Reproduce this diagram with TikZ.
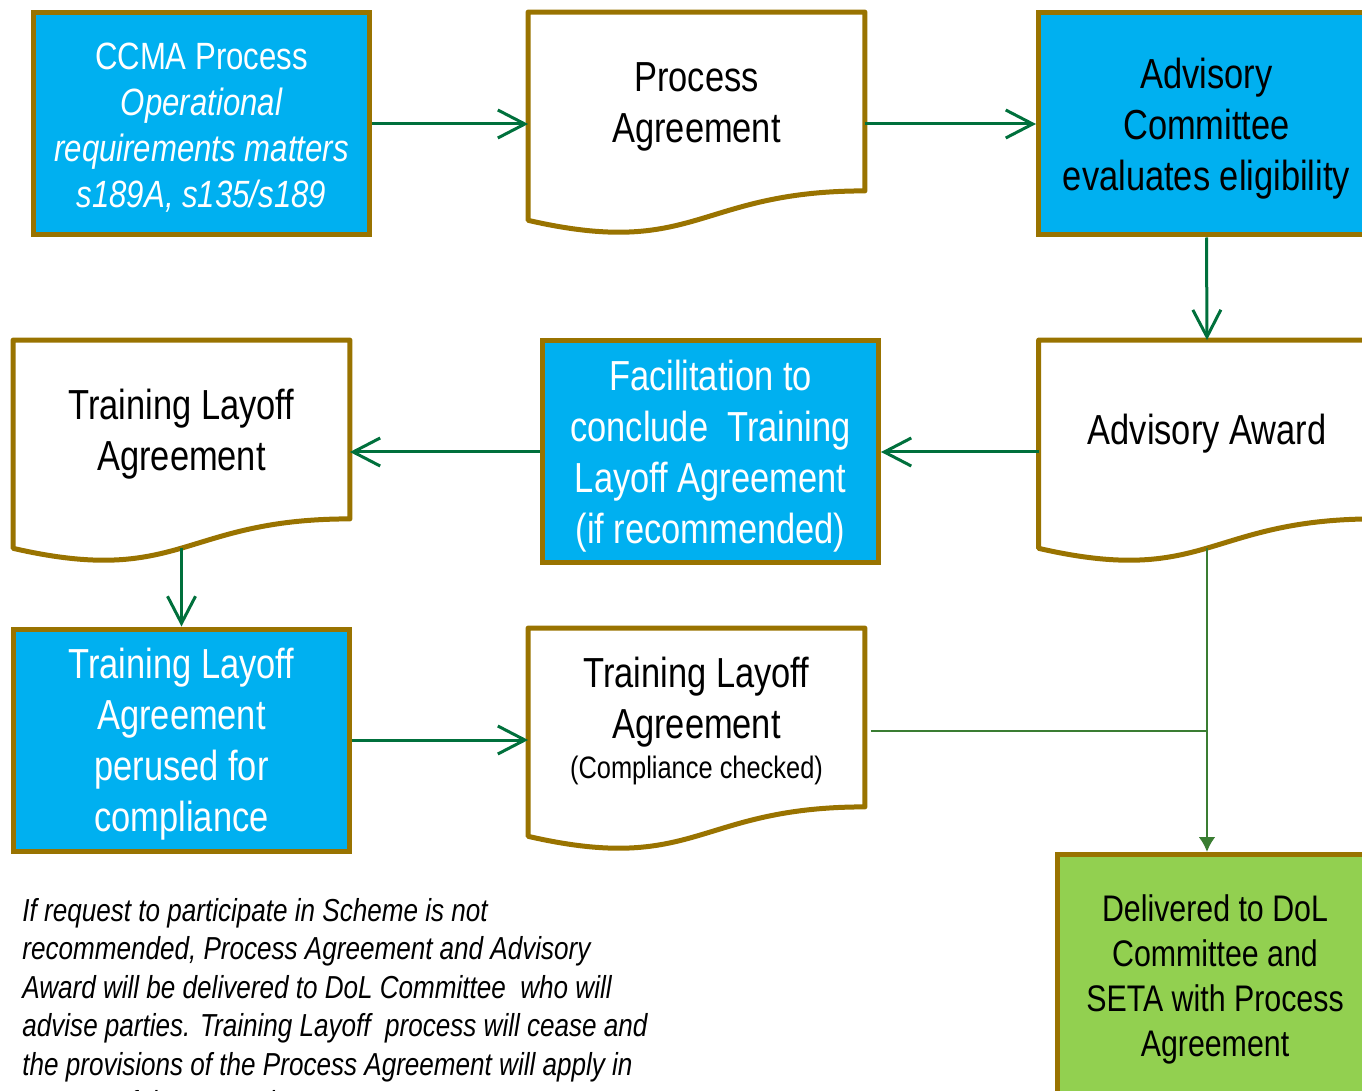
\documentclass[tikz,border=0pt]{standalone}
\usepackage{fontspec}
\setmainfont{Liberation Sans}[FakeStretch=0.82]
\usetikzlibrary{arrows.meta}
\usetikzlibrary{calc}

\definecolor{boxblue}{RGB}{0,176,240}
\definecolor{boxgreen}{RGB}{146,208,80}
\definecolor{rimgold}{RGB}{153,115,0}
\definecolor{linkgreen}{RGB}{0,112,60}
\definecolor{feedgreen}{RGB}{58,125,50}

% centred lines, set a little below the middle of the box
\newcommand{\boxlines}[1]{%
  \raisebox{-2.5pt}[\height][\depth]{\begin{tabular}{@{}c@{}}#1\end{tabular}}}

% wavy bottom of a document box, drawn round the text node #1
\newcommand{\docoutline}[1]{%
  \draw[docrim] (#1.north west) -- (#1.north east) -- (#1.south east)
    .. controls (#1.south) and ($(#1.south)!-0.381!(#1.north)$)
    .. ($(#1.south west)!-0.1646!(#1.north west)$) -- cycle;
  \coordinate (#1 foot) at ($(#1.south)!-0.1633!(#1.north)$);}

\begin{document}
\begin{tikzpicture}[x=0.5pt,y=-0.5pt,
    procbox/.style={draw=rimgold,line width=2.5pt,fill=boxblue,text=white,
      minimum width=168pt,minimum height=111pt,inner sep=0pt,
      font=\fontsize{21}{25.5}\selectfont},
    docbox/.style={minimum width=168pt,minimum height=89pt,inner sep=0pt,
      font=\fontsize{21}{25.5}\selectfont},
    docrim/.style={draw=rimgold,line width=2.5pt,line join=round},
    flow/.style={draw=linkgreen,line width=1.5pt,
      -{Straight Barb[length=13.5pt,width=14pt,line width=1.5pt]}},
    feed/.style={draw=feedgreen,line width=1.3pt}]
  \clip (0,0) rectangle (1362,1091);

  % top row
  \node[procbox,font=\fontsize{19}{23}\selectfont] (ccma) at (201.5,124)
    {\boxlines{CCMA Process\\ \itshape Operational\\ \itshape requirements matters\\ \itshape s189A, s135/s189}};
  \node[docbox] (procagr) at (696.5,101.5) {\boxlines{Process\\Agreement}};
  \docoutline{procagr}
  \node[procbox,text=black] (advcom) at (1206.5,124)
    {\boxlines{Advisory\\Committee\\evaluates eligibility}};

  % middle row
  \node[docbox] (tla) at (181.5,429.5) {\boxlines{Training Layoff\\Agreement}};
  \docoutline{tla}
  \node[procbox] (facil) at (710.5,452)
    {\boxlines{Facilitation to\\conclude\ \ Training\\Layoff Agreement\\(if recommended)}};
  \node[docbox] (award) at (1207,429.5) {\boxlines{Advisory Award}};
  \docoutline{award}

  % bottom row
  \node[procbox] (perused) at (181.5,740)
    {\boxlines{Training Layoff\\Agreement\\perused for\\compliance}};
  \node[docbox] (tlacc) at (696.5,717.5)
    {\boxlines{Training Layoff\\Agreement\\[-5.5pt]{\fontsize{15.5}{18}\selectfont (Compliance checked)}}};
  \docoutline{tlacc}
  \node[procbox,fill=boxgreen,text=black,minimum width=157.5pt,minimum height=120pt,
    font=\fontsize{18.5}{22.5}\selectfont] (deliv) at (1215,974.5)
    {\boxlines{Delivered to DoL\\Committee and\\SETA with Process\\Agreement}};

  \node[anchor=north west,align=left,inner sep=0pt,
    font=\fontsize{15.9}{19.25}\selectfont\itshape] (note) at (22,898)
    {If request to participate in Scheme is not\\
     recommended, Process Agreement and Advisory\\
     Award will be delivered to DoL Committee\ \ who will\\
     advise parties. Training Layoff\ \ process will cease and\\
     the provisions of the Process Agreement will apply in\\
     respect of the retrenchment.};

  % connectors
  \draw[flow] (ccma.east) -- (procagr.west |- ccma.east);
  \draw[flow] (procagr.east |- advcom.west) -- (advcom.west);
  \draw[flow] (advcom.south) -- (award.north);
  \draw[flow] (award.west |- facil.east) -- (facil.east);
  \draw[flow] (facil.west) -- (tla.east |- facil.west);
  \draw[flow] (tla foot) -- (perused.north);
  \draw[flow] (perused.east) -- (perused.east -| tlacc.west);
  \coordinate (join) at (award foot |- 0,731);
  \draw[feed] ([xshift=3pt]tlacc.east |- join) -- (join);
  \draw[feed,-{Latex[length=7.5pt,width=8.5pt]}] (award foot) -- (award foot |- deliv.north);
\end{tikzpicture}
\end{document}
